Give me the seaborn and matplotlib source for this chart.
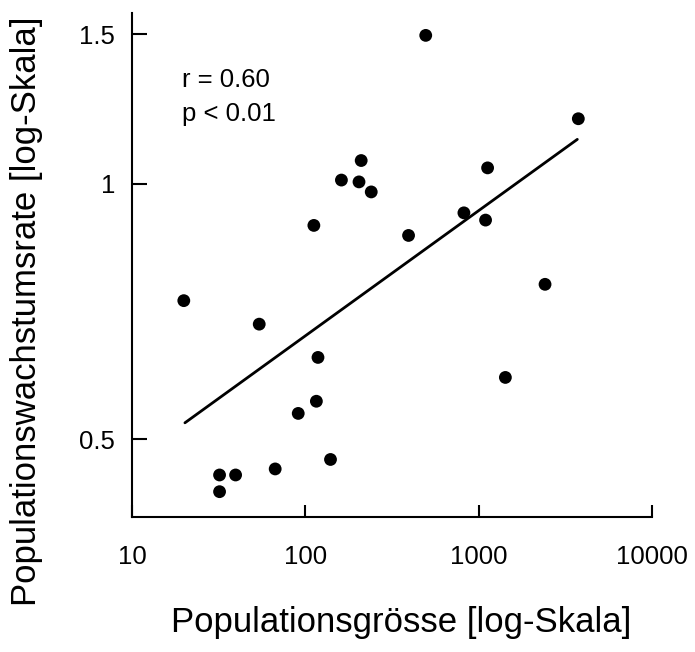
import matplotlib
matplotlib.use("Agg")
import matplotlib.pyplot as plt
import seaborn as sns
import pandas as pd
from matplotlib.ticker import FixedLocator, FixedFormatter, NullLocator

# Data (log-log)
pop_size = [495, 3758, 210, 161.5, 204, 240, 1126, 112, 394, 822, 1096, 2415,
            19.9, 54.2, 118.3, 115.8, 91, 139.7, 67, 32.0, 39.6, 32.0, 1426]
growth_rate = [1.496, 1.193, 1.065, 1.010, 1.005, 0.978, 1.044, 0.893, 0.869, 0.924,
               0.906, 0.761, 0.728, 0.683, 0.624, 0.554, 0.536, 0.473, 0.461, 0.4535,
               0.4535, 0.4334, 0.591]
fit_x = [20.2, 3708]
fit_y = [0.5225, 1.128]
x_ticks = [10, 100, 1000, 10000]
x_ticklabels = ["10", "100", "1000", "10000"]
y_ticks = [0.5, 1, 1.5]
y_ticklabels = ["0.5", "1", "1.5"]
stats_lines = ["r = 0.60", "p < 0.01"]
xlabel = "Populationsgrösse [log-Skala]"
ylabel = "Populationswachstumsrate [log-Skala]"

sns.set_style("ticks")
plt.rcParams['font.family'] = ['Liberation Sans', 'DejaVu Sans']
plt.rcParams['text.color'] = 'black'
plt.rcParams['axes.labelcolor'] = 'black'
plt.rcParams['xtick.color'] = 'black'
plt.rcParams['ytick.color'] = 'black'

df = pd.DataFrame({"x": pop_size, "y": growth_rate})
fit = pd.DataFrame({"x": fit_x, "y": fit_y})

W, H = 695, 652
L, R, B, T = 132, 652, 517, 12.7
fig = plt.figure(figsize=(W / 100, H / 100), dpi=100)
ax = fig.add_axes([L / W, 1 - B / H, (R - L) / W, (B - T) / H])

sns.scatterplot(data=df, x="x", y="y", ax=ax, color="black", s=85,
                edgecolor="none", zorder=3)
sns.lineplot(data=fit, x="x", y="y", ax=ax, color="black", linewidth=2.0,
             zorder=2)

ax.set_xscale("log")
ax.set_yscale("log")
ax.set_xlim(10, 10000)
ax.set_ylim(0.4046, 1.591)

ax.xaxis.set_major_locator(FixedLocator(x_ticks))
ax.xaxis.set_major_formatter(FixedFormatter(x_ticklabels))
ax.xaxis.set_minor_locator(NullLocator())
ax.yaxis.set_major_locator(FixedLocator(y_ticks))
ax.yaxis.set_major_formatter(FixedFormatter(y_ticklabels))
ax.yaxis.set_minor_locator(NullLocator())

for side in ["top", "right"]:
    ax.spines[side].set_visible(False)
for side in ["left", "bottom"]:
    ax.spines[side].set_linewidth(1.5)
    ax.spines[side].set_color("black")

ax.tick_params(axis="both", direction="in", width=1.5,
               colors="black", labelcolor="black", labelsize=18.5)
ax.tick_params(axis="x", length=8.6, pad=20)
ax.tick_params(axis="y", length=11, pad=12)

ax.set_xlabel(xlabel, fontsize=25, va="top", color="black")
ax.xaxis.set_label_coords((401.5 - L) / (R - L), (B - 606) / (B - T))
ax.set_ylabel(ylabel, fontsize=25, color="black")
ax.yaxis.set_label_coords((43 - L) / (R - L), (B - 311) / (B - T))

stats_y = [(B - 87.3) / (B - T), (B - 120.7) / (B - T)]
for line, yy in zip(stats_lines, stats_y):
    ax.text((181.7 - L) / (R - L), yy, line, transform=ax.transAxes,
            fontsize=18.5, ha="left", va="baseline", color="black")

fig.savefig("out.png", dpi=100)
